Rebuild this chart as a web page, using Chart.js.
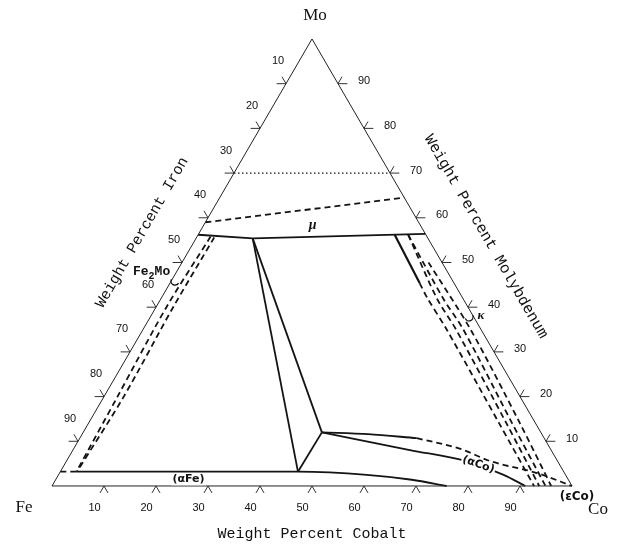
<!DOCTYPE html>
<html>
<head>
<meta charset="utf-8">
<script src="https://cdn.jsdelivr.net/npm/chart.js@4.4.1/dist/chart.umd.min.js"></script>
<style>
  html, body { margin: 0; padding: 0; background: #fff; }
  canvas { display: block; }
</style>
</head>
<body>
<canvas id="ternary" width="624" height="545"></canvas>
<script>
// every composition is [wt% Co, wt% Mo]; Fe makes up the balance
const gridValues = [10, 20, 30, 40, 50, 60, 70, 80, 90];
const tickLabels = ['10', '20', '30', '40', '50', '60', '70', '80', '90'];

const isotherm70 = [[0, 70], [30, 70]];
const muUpper = [[0, 59], [35.5, 64.5]];
const muLower = [[0, 56.2], [10.9, 55.4], [43.6, 56.4]];
const tieToAlphaFe = [[10.9, 55.4], [45.7, 3.2]];
const tieToAlphaCo = [[10.9, 55.4], [45.9, 12.0]];
const tieBase = [[45.7, 3.2], [45.9, 12.0]];
const alphaFeDashed = [[0, 3.2], [3.1, 3.2]];
const alphaFeSolvus = [[3.1, 3.2], [45.7, 3.2], [59.3, 2.5], [68.5, 1.4], [75.9, 0]];
const alphaCoUpper = [[45.9, 12.0], [55.0, 11.6], [64.8, 10.7]];
const alphaCoUpperDashed = [[64.8, 10.7], [74.4, 8.3], [81.4, 5.6], [91.8, 2.9], [100, 0]];
const alphaCoLower = [[45.9, 12.0], [64.8, 8.05], [77.0, 5.5], [85.6, 2.5], [91.0, 0]];

// Fe2Mo band (left)
const fe2MoA = [[2.6, 55.8], [2.0, 40], [2.6, 20], [3.1, 3.2]];
const fe2MoB = [[3.4, 55.6], [3.3, 40], [3.8, 20], [3.2, 3.2]];

// kappa band (right)
const kappaSolid = [[37.8, 56.2], [48.0, 45.4]];
const kappa1 = [[48.0, 45.4], [51.2, 42], [58.4, 35], [79.0, 14], [92.7, 0]];
const kappa2 = [[40.4, 56.2], [53.0, 42], [60.2, 35], [80.4, 14], [93.7, 0]];
const kappa3 = [[40.4, 56.2], [54.2, 42], [61.6, 35], [81.5, 14], [94.9, 0]];
const kappa4 = [[47.4, 50], [63.0, 35], [83.0, 14], [96.0, 0]];

const fe2MoMark = [0.85, 45.6];
const kappaMark = [61.4, 37.6];

const toXY = ([co, mo]) => ({ x: co + mo / 2, y: mo });

function boundary(points, extra) {
  return Object.assign({
    data: points.map(toXY),
    showLine: true,
    borderColor: '#141414',
    borderWidth: 1.8,
    pointRadius: 0,
    tension: 0
  }, extra || {});
}

const dash = { borderDash: [6, 4] };

// tick marks: short outward strokes parallel to the other two sides
const gap = { x: NaN, y: NaN };
const tickData = [];
gridValues.forEach(v => {
  const b = toXY([v, 0]);
  tickData.push({ x: b.x - 0.77, y: -1.55 }, b, { x: b.x + 0.77, y: -1.55 }, gap);
  const l = toXY([0, 100 - v]);
  tickData.push({ x: l.x - 1.8, y: l.y }, l, { x: l.x - 0.77, y: l.y + 1.55 }, gap);
  const r = toXY([100 - v, v]);
  tickData.push({ x: r.x + 1.8, y: r.y }, r, { x: r.x + 0.77, y: r.y + 1.55 }, gap);
});

const labelsPlugin = {
  id: 'ternaryLabels',
  afterDatasetsDraw(chart) {
    const ctx = chart.ctx;
    const sx = chart.scales.x, sy = chart.scales.y;
    const at = (c) => {
      const p = toXY(c);
      return [sx.getPixelForValue(p.x), sy.getPixelForValue(p.y)];
    };
    ctx.save();
    ctx.fillStyle = '#111';
    ctx.textAlign = 'center';
    ctx.textBaseline = 'middle';

    // tick labels
    ctx.font = '11px "Liberation Sans", Arial, sans-serif';
    gridValues.forEach((v, i) => {
      let p = at([v, 0]);
      ctx.fillText(tickLabels[i], p[0] - 9.5, p[1] + 22);
      p = at([0, 100 - v]);
      ctx.fillText(tickLabels[i], p[0] - 8, p[1] - 22.5);
      p = at([100 - v, v]);
      ctx.fillText(tickLabels[i], p[0] + 26, p[1] - 2.5);
    });

    // corners
    ctx.font = '17px "Liberation Serif", "Times New Roman", serif';
    let p = at([0, 100]);
    ctx.fillText('Mo', p[0] + 3, p[1] - 23);
    p = at([0, 0]);
    ctx.fillText('Fe', p[0] - 28, p[1] + 22);
    p = at([100, 0]);
    ctx.fillText('Co', p[0] + 26, p[1] + 24);

    // axis titles
    ctx.font = '15px "Liberation Mono", "Courier New", monospace';
    p = at([50, 0]);
    ctx.fillText('Weight Percent Cobalt', p[0], p[1] + 48);
    p = at([0, 50]);
    ctx.save();
    ctx.translate(p[0] - 40, p[1] - 30);
    ctx.rotate(-Math.PI / 3);
    ctx.fillText('Weight Percent Iron', 0, 0);
    ctx.restore();
    p = at([50, 50]);
    ctx.save();
    ctx.translate(p[0] + 44, p[1] - 26);
    ctx.rotate(Math.PI / 3);
    ctx.font = '15.5px "Liberation Mono", "Courier New", monospace';
    ctx.fillText('Weight Percent Molybdenum', 0, 0);
    ctx.restore();

    // phase labels
    ctx.font = 'italic bold 14px "Liberation Serif", serif';
    p = at([22, 56.2]);
    ctx.fillText('\u03bc', p[0], p[1] - 9);

    ctx.font = 'italic bold 13px "Liberation Serif", serif';
    p = at(kappaMark);
    ctx.fillText('\u03ba', p[0] + 12, p[1] - 2);

    // Fe2Mo with subscript
    ctx.font = 'bold 13px "Liberation Mono", monospace';
    p = at(fe2MoMark);
    ctx.textAlign = 'left';
    let x0 = p[0] - 42, y0 = p[1] - 10;
    ctx.fillText('Fe', x0, y0);
    x0 += ctx.measureText('Fe').width;
    ctx.font = 'bold 10px "Liberation Mono", monospace';
    ctx.fillText('2', x0, y0 + 4);
    x0 += ctx.measureText('2').width;
    ctx.font = 'bold 13px "Liberation Mono", monospace';
    ctx.fillText('Mo', x0, y0);
    ctx.textAlign = 'center';

    const boxed = (text, x, y, angle) => {
      ctx.save();
      ctx.translate(x, y);
      ctx.rotate(angle);
      const w = ctx.measureText(text).width;
      ctx.fillStyle = '#fff';
      ctx.fillRect(-w / 2 - 1, -6, w + 2, 12);
      ctx.fillStyle = '#111';
      ctx.fillText(text, 0, 0);
      ctx.restore();
    };
    ctx.font = 'bold 11px "DejaVu Sans", sans-serif';
    p = at([25.5, 1.5]);
    boxed('(\u03b1Fe)', p[0], p[1], 0);
    p = at([79.5, 5.0]);
    boxed('(\u03b1Co)', p[0], p[1] + 1, 0.33);
    ctx.font = 'bold 12px "DejaVu Sans", sans-serif';
    p = at([100, 0]);
    ctx.fillText('(\u03b5Co)', p[0] + 5, p[1] + 11);

    // composition markers
    ctx.strokeStyle = '#111';
    ctx.lineWidth = 1.3;
    [[fe2MoMark, 0.5], [kappaMark, -0.4]].forEach(([c, rot]) => {
      const q = at(c);
      ctx.beginPath();
      ctx.arc(q[0], q[1] - 1, 4, rot, Math.PI + rot);
      ctx.stroke();
    });
    ctx.restore();
  }
};

new Chart(document.getElementById('ternary'), {
  type: 'scatter',
  data: {
    datasets: [
      boundary([[0, 0], [100, 0], [0, 100], [0, 0]], { borderWidth: 1, borderColor: '#222' }),
      { data: tickData, showLine: true, spanGaps: false, borderColor: '#333', borderWidth: 1, pointRadius: 0 },
      boundary(isotherm70, { borderDash: [1.5, 2.5], borderWidth: 1.3 }),
      boundary(muUpper, dash),
      boundary(muLower),
      boundary(tieToAlphaFe),
      boundary(tieToAlphaCo),
      boundary(tieBase),
      boundary(alphaFeDashed, dash),
      boundary(alphaFeSolvus, { cubicInterpolationMode: 'monotone' }),
      boundary(alphaCoUpper, { cubicInterpolationMode: 'monotone' }),
      boundary(alphaCoUpperDashed, Object.assign({ cubicInterpolationMode: 'monotone' }, dash)),
      boundary(alphaCoLower, { cubicInterpolationMode: 'monotone' }),
      boundary(fe2MoA, Object.assign({ tension: 0.3 }, dash)),
      boundary(fe2MoB, Object.assign({ tension: 0.3 }, dash)),
      boundary(kappaSolid, { borderWidth: 2.2 }),
      boundary(kappa1, Object.assign({ tension: 0.3 }, dash)),
      boundary(kappa2, Object.assign({ tension: 0.3 }, dash)),
      boundary(kappa3, Object.assign({ tension: 0.3 }, dash)),
      boundary(kappa4, Object.assign({ tension: 0.3 }, dash))
    ]
  },
  options: {
    responsive: false,
    animation: false,
    layout: { padding: 0, autoPadding: false },
    plugins: { legend: { display: false }, tooltip: { enabled: false } },
    scales: {
      x: { type: 'linear', min: -10, max: 110, display: false },
      y: { type: 'linear', min: -13.2, max: 108.72, display: false }
    }
  },
  plugins: [labelsPlugin]
});
</script>
</body>
</html>
